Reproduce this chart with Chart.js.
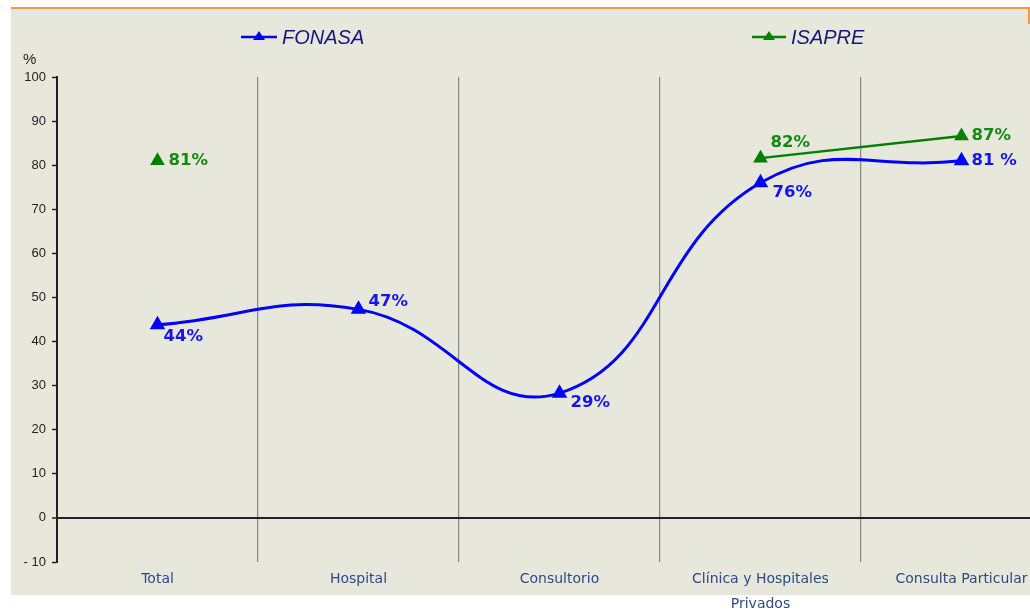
<!DOCTYPE html>
<html><head><meta charset="utf-8">
<script src="https://cdn.jsdelivr.net/npm/chart.js@4"></script>
<style>
html,body{margin:0;padding:0;background:#fff;overflow:hidden;}
#wrap{position:fixed;left:0;top:0;width:1030px;height:616px;overflow:hidden;}
canvas{display:block;}
</style></head><body>
<div id="wrap"><canvas id="c" width="1075" height="616" style="width:1075px;height:616px"></canvas></div>
<script>
// ---- data ----
const categories = ['Total', 'Hospital', 'Consultorio', ['Clínica y Hospitales', 'Privados'], 'Consulta Particular'];
const seriesNames = ['FONASA', 'ISAPRE'];
const fonasaValues = [43.8, 47.3, 28.3, 76.0, 81.0];
const isapreValues = [81.0, null, null, 81.6, 86.6];
const fonasaLabels = ['44%', '47%', '29%', '76%', '81 %'];
const isapreLabels = ['81%', '', '', '82%', '87%'];
const yMin = -10, yMax = 100, yStep = 10;
const yUnit = '%';

// ---- styling ----
const fonasaColor = '#0000FF';
const isapreColor = '#008000';
const fonasaLabelColor = '#1414F0';
const isapreLabelColor = '#138A13';
const fonasaLabelOffsets = [[6, 12], [10, -8], [11, 10], [12, 10], [10, 0]];
const isapreLabelOffsets = [[11, 0], null, null, [10, -15], [10, 0]];

const decor = {
  id: 'decor',
  beforeDraw(chart) {
    const ctx = chart.ctx;
    ctx.save();
    ctx.fillStyle = '#ffffff';
    ctx.fillRect(0, 0, chart.width, chart.height);
    ctx.fillStyle = '#E8E7DC';
    ctx.fillRect(11, 9, chart.width, 586);
    ctx.fillStyle = '#F79646';
    ctx.fillRect(11, 7, chart.width, 2);
    ctx.fillRect(1028, 7, 2, 17);
    ctx.restore();
  },
  afterDatasetsDraw(chart) {
    const ctx = chart.ctx;
    ctx.save();
    ctx.font = 'bold 16.5px "DejaVu Sans"';
    ctx.textAlign = 'left';
    ctx.textBaseline = 'middle';
    const sets = [[0, fonasaLabels, fonasaLabelOffsets, fonasaLabelColor], [1, isapreLabels, isapreLabelOffsets, isapreLabelColor]];
    sets.forEach(([di, labels, offs, col]) => {
      const meta = chart.getDatasetMeta(di);
      meta.data.forEach((pt, i) => {
        if (!labels[i] || !offs[i]) return;
        ctx.fillStyle = col;
        ctx.fillText(labels[i], pt.x + offs[i][0], pt.y + offs[i][1]);
      });
    });
    ctx.restore();
  },
  afterDraw(chart) {
    const ctx = chart.ctx;
    ctx.save();
    ctx.fillStyle = '#222';
    ctx.font = '15px "Liberation Sans"';
    ctx.textAlign = 'left';
    ctx.textBaseline = 'middle';
    ctx.fillText(yUnit, 23, 60);
    const items = [
      {name: seriesNames[0], color: fonasaColor, x1: 241, x2: 277},
      {name: seriesNames[1], color: isapreColor, x1: 752, x2: 786}
    ];
    const y = 37;
    items.forEach(it => {
      ctx.strokeStyle = it.color;
      ctx.lineWidth = 2.5;
      ctx.beginPath();
      ctx.moveTo(it.x1, y);
      ctx.lineTo(it.x2, y);
      ctx.stroke();
      const cx = (it.x1 + it.x2) / 2;
      ctx.fillStyle = it.color;
      ctx.beginPath();
      ctx.moveTo(cx, y - 6);
      ctx.lineTo(cx + 6, y + 3);
      ctx.lineTo(cx - 6, y + 3);
      ctx.closePath();
      ctx.fill();
      ctx.fillStyle = '#15157F';
      ctx.font = 'italic 20px "Liberation Sans"';
      ctx.textBaseline = 'middle';
      ctx.fillText(it.name, it.x2 + 5, y + 1);
    });
    ctx.restore();
  }
};

new Chart(document.getElementById('c'), {
  type: 'line',
  data: {
    labels: categories,
    datasets: [
      {
        label: seriesNames[0], data: fonasaValues,
        borderColor: fonasaColor, backgroundColor: fonasaColor, borderWidth: 3,
        pointStyle: 'triangle', pointRadius: 6, pointBackgroundColor: fonasaColor, pointBorderColor: fonasaColor,
        tension: 0.45, fill: false
      },
      {
        label: seriesNames[1], data: isapreValues,
        borderColor: isapreColor, backgroundColor: isapreColor, borderWidth: 2.5,
        pointStyle: 'triangle', pointRadius: 6, pointBackgroundColor: isapreColor, pointBorderColor: isapreColor,
        tension: 0, spanGaps: false, fill: false
      }
    ]
  },
  options: {
    responsive: false,
    animation: false,
    layout: {padding: {left: 10, right: 13, top: 77, bottom: 0}},
    plugins: {legend: {display: false}, tooltip: {enabled: false}},
    scales: {
      x: {
        offset: true,
        grid: {offset: true, color: '#858585', lineWidth: 1.2, drawTicks: false},
        border: {display: false},
        ticks: {color: '#2B4C7E', font: {family: '"DejaVu Sans"', size: 14, lineHeight: 1.8}, padding: 5, maxRotation: 0, autoSkip: false},
        afterFit(s) { s.height = 54; }
      },
      y: {
        min: yMin, max: yMax,
        ticks: {stepSize: yStep, color: '#222', font: {family: '"Liberation Sans"', size: 13}, padding: 6,
          callback: v => v < 0 ? '- ' + Math.abs(v) : String(v)},
        grid: {
          color: c => c.tick && c.tick.value === 0 ? '#222' : 'rgba(0,0,0,0)',
          lineWidth: c => c.tick && c.tick.value === 0 ? 2 : 1,
          tickColor: '#222', tickLength: 5, tickWidth: 1.5
        },
        border: {display: true, color: '#222', width: 2},
        afterFit(s) { s.width = 47; }
      }
    }
  },
  plugins: [decor]
});
</script>
</body></html>
